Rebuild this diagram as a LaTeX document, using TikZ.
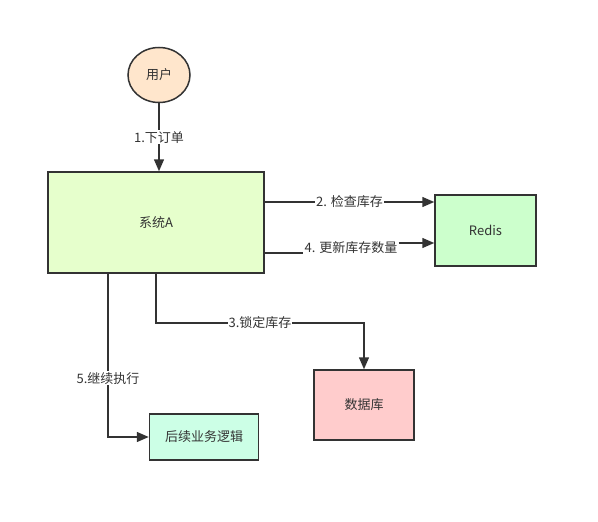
\documentclass[tikz,border=0pt]{standalone}
\usepackage{fontspec}
\setmainfont{Noto Sans CJK SC}
\usetikzlibrary{arrows.meta, calc, positioning, shapes.geometric}
\definecolor{edge}{HTML}{333333}
\definecolor{userfill}{HTML}{FFE6CC}
\definecolor{sysfill}{HTML}{E6FFCC}
\definecolor{redisfill}{HTML}{CCFFCC}
\definecolor{dbfill}{HTML}{FFCCCC}
\definecolor{nextfill}{HTML}{CCFFE6}

\begin{document}
\begin{tikzpicture}[x=1pt, y=-1pt, font=\fontsize{13}{15}\selectfont,
  box/.style={draw=edge, line width=1.5pt, inner sep=0pt, text=edge},
  arr/.style={draw=edge, line width=1.5pt, -{Triangle[length=12pt,width=10pt]}},
  lbl/.style={fill=white, inner sep=1pt, text=edge}]
\useasboundingbox (0,0) rectangle (598,522);
% nodes
\node[box, ellipse, fill=userfill, minimum width=62pt, minimum height=55pt] (user) at (159,75) {用户};
\node[box, fill=sysfill, minimum width=216pt, minimum height=101pt] (sys) at (156,222.5) {系统A};
\node[box, fill=redisfill, minimum width=101pt, minimum height=71pt] (redis) at (485.5,230.5) {Redis};
\node[box, fill=dbfill, minimum width=100pt, minimum height=70pt] (db) at (364,405) {数据库};
\node[box, fill=nextfill, minimum width=109pt, minimum height=46pt] (next) at (204,437) {后续业务逻辑};
% connectors
\draw[arr] (user.south) -- node[lbl]{1.下订单} (user.south |- sys.north);
\draw[arr] (sys.east |- 0,202) -- node[lbl]{2. 检查库存} (redis.west |- 0,202);
\node[lbl] (l4) at (351,248) {4. 更新库存数量};
\draw[draw=edge, line width=1.5pt] (sys.east |- 0,253) -- (l4.west |- 0,253);
\draw[arr] (l4.east |- 0,243) -- (redis.west |- 0,243);
\draw[arr] (sys.south) -- ++(0,49) -| node[lbl, pos=0.25]{3.锁定库存} (db.north);
\draw[arr] (sys.south -| 108,0) |- node[lbl, pos=0.32]{5.继续执行} (next.west);
\end{tikzpicture}
\end{document}
